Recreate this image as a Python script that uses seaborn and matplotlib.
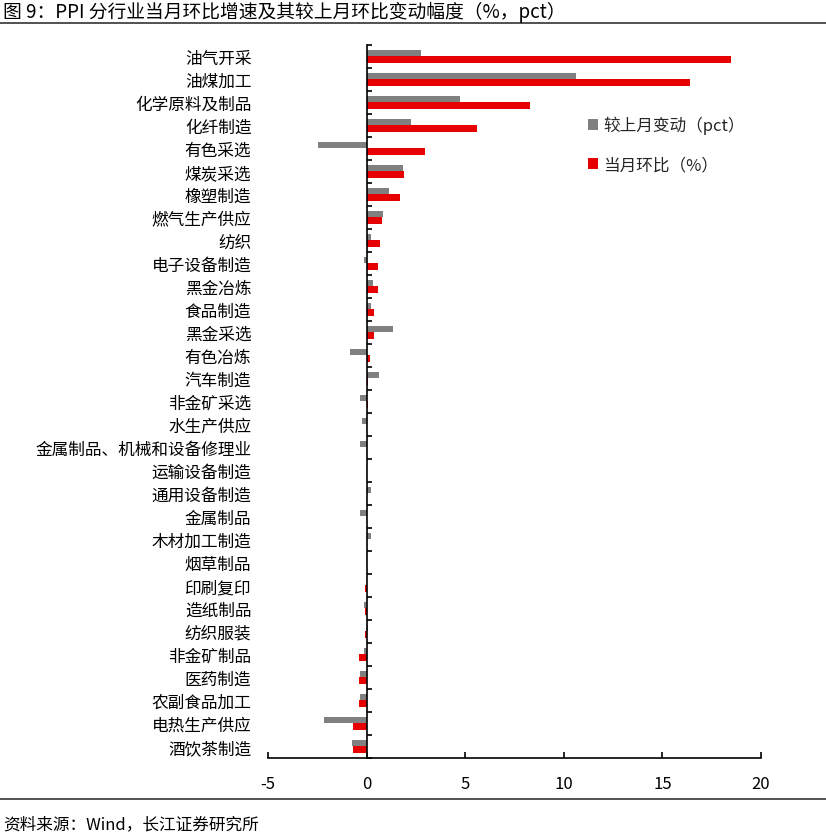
import numpy as np
import pandas as pd
import seaborn as sns
import matplotlib.pyplot as plt
from matplotlib.lines import Line2D
from matplotlib.patches import Patch

industries = ['油气开采', '油煤加工', '化学原料及制品', '化纤制造', '有色采选', '煤炭采选',
              '橡塑制造', '燃气生产供应', '纺织', '电子设备制造', '黑金冶炼', '食品制造',
              '黑金采选', '有色冶炼', '汽车制造', '非金矿采选', '水生产供应',
              '金属制品、机械和设备修理业', '运输设备制造', '通用设备制造', '金属制品',
              '木材加工制造', '烟草制品', '印刷复印', '造纸制品', '纺织服装', '非金矿制品',
              '医药制造', '农副食品加工', '电热生产供应', '酒饮茶制造']
change_pct = [2.74, 10.6, 4.72, 2.23, -2.46, 1.84, 1.13, 0.81, 0.22, -0.14, 0.32, 0.22,
              1.33, -0.83, 0.62, -0.32, -0.24, -0.32, 0.0, 0.22, -0.32, 0.22, 0.0, 0.0,
              -0.14, 0.07, -0.14, -0.32, -0.32, -2.15, -0.74]
mom_pct = [18.5, 16.4, 8.29, 5.58, 2.97, 1.89, 1.69, 0.78, 0.68, 0.57, 0.59, 0.37,
           0.37, 0.17, 0.08, 0.07, 0.0, 0.0, 0.0, 0.0, 0.0, 0.0, 0.0, -0.08,
           -0.08, -0.08, -0.41, -0.41, -0.41, -0.69, -0.69]
series_names = ['较上月变动（pct）', '当月环比（%）']
x_ticks = [-5, 0, 5, 10, 15, 20]

GRAY = '#808080'
RED = '#E60000'

df = pd.DataFrame({
    'industry': industries * 2,
    'value': change_pct + mom_pct,
    'series': [series_names[0]] * len(industries) + [series_names[1]] * len(industries),
})

sns.set_theme(style='white')
plt.rcParams['font.family'] = ['Noto Sans CJK SC', 'DejaVu Sans']
plt.rcParams['axes.unicode_minus'] = False

W, H = 826, 837
fig = plt.figure(figsize=(W / 100, H / 100), dpi=100)
ax = fig.add_axes([268 / W, 1 - 759 / H, (761 - 268) / W, (759 - 45.7) / H])

sns.barplot(data=df, y='industry', x='value', hue='series', order=industries,
            palette=[GRAY, RED], saturation=1, width=0.55, errorbar=None, linewidth=0,
            orient='h', ax=ax, legend=False)

ax.set_xlim(-5, 20)
ax.set_ylim(len(industries) - 0.5, -0.5)
ax.set_xticks(x_ticks)
ax.set_xticklabels([str(t) for t in x_ticks])
ax.set_xlabel('')
ax.set_ylabel('')

for side in ['top', 'right']:
    ax.spines[side].set_visible(False)
for side in ['left', 'bottom']:
    ax.spines[side].set_color('black')
    ax.spines[side].set_linewidth(1.2)
ax.spines['left'].set_position(('data', 0))

ax.set_yticks(np.arange(-0.5, len(industries), 1), minor=True)
ax.tick_params(axis='y', which='major', length=0, pad=83, labelsize=12, colors='black')
ax.tick_params(axis='y', which='minor', direction='in', length=3.8, width=1.2, color='black', left=True)
ax.tick_params(axis='x', direction='in', length=4.3, width=1.2, pad=12, labelsize=12,
               colors='black', bottom=True)
for lab in ax.get_yticklabels():
    lab.set_horizontalalignment('right')

handles = [Patch(facecolor=GRAY, edgecolor='none'), Patch(facecolor=RED, edgecolor='none')]
ax.legend(handles, series_names, loc='upper left', bbox_to_anchor=(588 / W, 1 - 117 / H),
          bbox_transform=fig.transFigure, frameon=False, fontsize=12,
          handlelength=0.6, handleheight=0.6, handletextpad=0.3, labelspacing=1.3,
          borderpad=0, borderaxespad=0)

# header / footer as in the report
fig.text(0.004, 1 - 12 / H, '图 9：PPI 分行业当月环比增速及其较上月环比变动幅度（%，pct）',
         fontsize=13.5, va='center', ha='left', color='black')
fig.add_artist(Line2D([0, 1], [1 - 24 / H, 1 - 24 / H], transform=fig.transFigure,
                      color='#333333', linewidth=1.2))
fig.add_artist(Line2D([0, 1], [1 - 800 / H, 1 - 800 / H], transform=fig.transFigure,
                      color='#333333', linewidth=1.2))
fig.text(0.004, 1 - 825 / H, '资料来源：Wind，长江证券研究所', fontsize=12,
         va='center', ha='left', color='black')

fig.savefig('out.png', dpi=100)
